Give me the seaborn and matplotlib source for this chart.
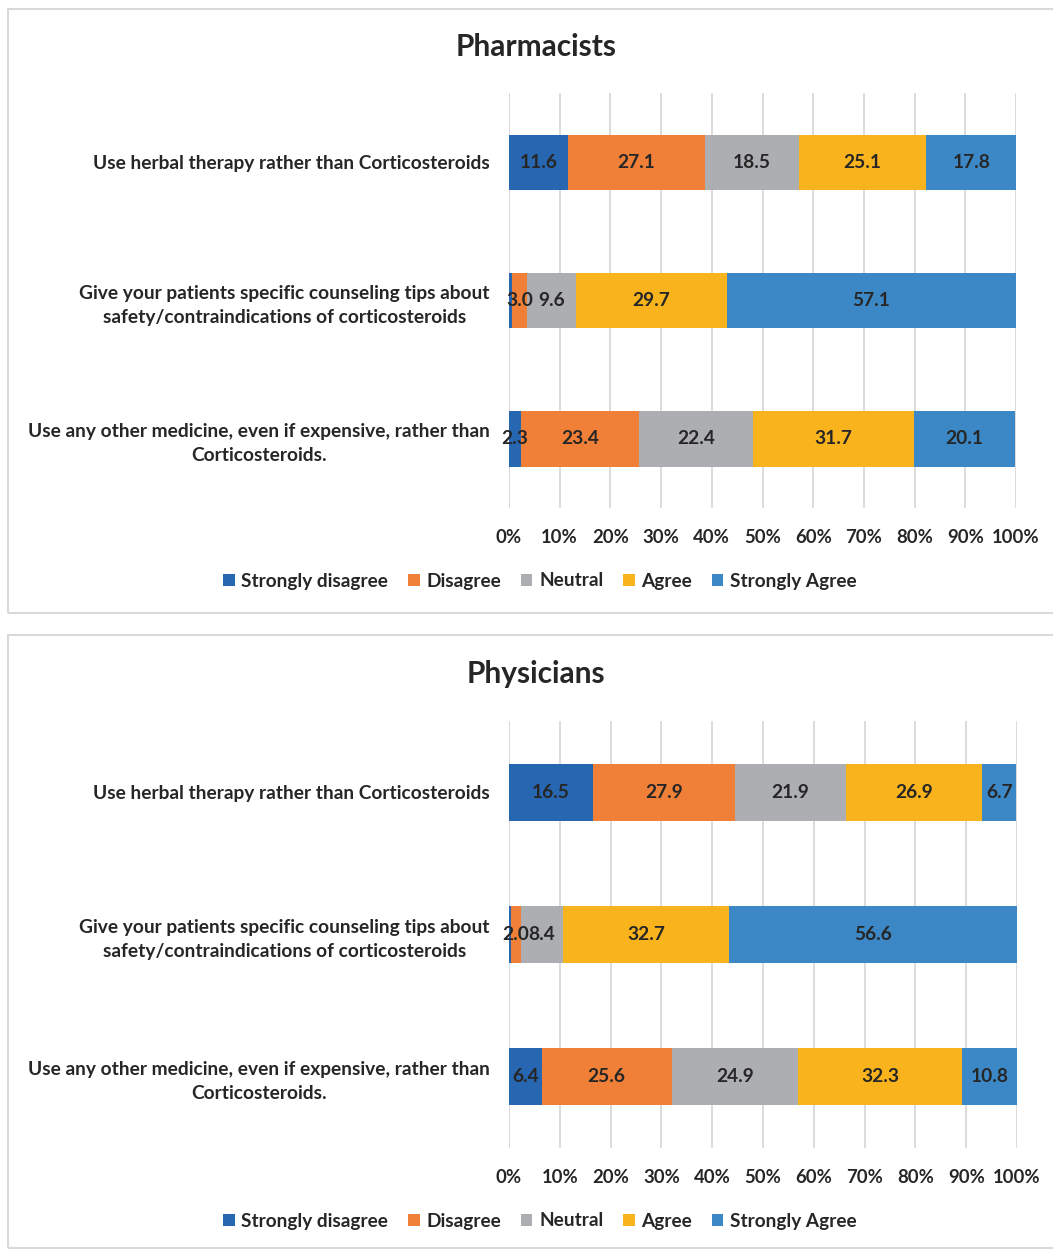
import matplotlib
matplotlib.use("Agg")
import matplotlib.pyplot as plt
import seaborn as sns
import numpy as np
import pandas as pd
from matplotlib.patches import Patch, Rectangle

# ---- data ----
statements = [
    "Use herbal therapy rather than Corticosteroids",
    "Give your patients specific counseling tips about\nsafety/contraindications of corticosteroids",
    "Use any other medicine, even if expensive, rather than\nCorticosteroids.",
]
levels = ["Strongly disagree", "Disagree", "Neutral", "Agree", "Strongly Agree"]
colors = ["#2767B2", "#F07F37", "#ADAEB2", "#F9B31C", "#3C88C6"]

pharm_strongly_disagree = [11.6, 0.6, 2.3]
pharm_disagree = [27.1, 3.0, 23.4]
pharm_neutral = [18.5, 9.6, 22.4]
pharm_agree = [25.1, 29.7, 31.7]
pharm_strongly_agree = [17.8, 57.1, 20.1]

phys_strongly_disagree = [16.5, 0.3, 6.4]
phys_disagree = [27.9, 2.0, 25.6]
phys_neutral = [21.9, 8.4, 24.9]
phys_agree = [26.9, 32.7, 32.3]
phys_strongly_agree = [6.7, 56.6, 10.8]

x_ticks = [0, 10, 20, 30, 40, 50, 60, 70, 80, 90, 100]
x_ticklabels = [f"{t}%" for t in x_ticks]

sns.set_theme(style="whitegrid")
plt.rcParams["font.family"] = ["Lato", "DejaVu Sans"]
plt.rcParams["font.weight"] = "bold"
TXT = "#262626"

W, H = 1053, 1250
fig = plt.figure(figsize=(W / 100, H / 100), dpi=100)


def px_axes(left, top, right, bottom):
    return fig.add_axes([left / W, 1 - bottom / H, (right - left) / W, (bottom - top) / H])


def draw_panel(ax, series, title, title_y, legend_y):
    df = pd.DataFrame({lvl: vals for lvl, vals in zip(levels, series)})
    df["statement"] = statements
    cum = df[levels].cumsum(axis=1)
    # draw from the rightmost cumulative segment to the leftmost
    for lvl, col in reversed(list(zip(levels, colors))):
        sns.barplot(data=cum.assign(statement=statements), x=lvl, y="statement",
                    order=statements, orient="h", color=col, width=0.4,
                    saturation=1, ax=ax, edgecolor="none", linewidth=0)
    # labels
    for i in range(len(statements)):
        for lvl in levels:
            v = df.loc[i, lvl]
            if v < 1:
                continue
            c = cum.loc[i, lvl] - v / 2
            ax.text(c, i, f"{v:.1f}", ha="center", va="center", fontsize=13.8,
                    fontweight="bold", color=TXT)
    ax.set_xlim(0, 100)
    ax.set_ylim(2.5, -0.5)
    ax.set_xticks(x_ticks)
    ax.set_xticklabels(x_ticklabels)
    ax.set_xlabel("")
    ax.set_ylabel("")
    ax.grid(axis="x", color="#D9D9D9", linewidth=1.3)
    ax.grid(axis="y", visible=False)
    ax.set_axisbelow(True)
    for s in ax.spines.values():
        s.set_visible(False)
    ax.axvline(0, color="#D9D9D9", linewidth=1.3, zorder=0)
    ax.tick_params(axis="x", length=0, pad=15, labelsize=13.3, labelcolor=TXT)
    ax.tick_params(axis="y", length=0, pad=14, labelsize=13.8, labelcolor=TXT)
    for t in ax.get_yticklabels():
        t.set_multialignment("center")
        t.set_linespacing(1.5)
        t.set_fontweight("bold")
    for t in ax.get_xticklabels():
        t.set_fontweight("bold")
    fig.text(536 / W, 1 - title_y / H, title, ha="center", va="center",
             fontsize=21.5, fontweight="bold", color=TXT)
    handles = [Patch(facecolor=c, edgecolor="none", label=l) for l, c in zip(levels, colors)]
    fig.legend(handles=handles, loc="center", bbox_to_anchor=(540 / W, 1 - legend_y / H),
               ncol=5, frameon=False, handlelength=0.6, handleheight=0.6,
               handletextpad=0.35, columnspacing=1.05,
               prop={"size": 13.7, "weight": "bold"}, labelcolor=TXT)


ax1 = px_axes(509, 93, 1016, 508)
draw_panel(ax1, [pharm_strongly_disagree, pharm_disagree, pharm_neutral,
                 pharm_agree, pharm_strongly_agree], "Pharmacists", 47, 581)

ax2 = px_axes(509, 721, 1017, 1148)
draw_panel(ax2, [phys_strongly_disagree, phys_disagree, phys_neutral,
                 phys_agree, phys_strongly_agree], "Physicians", 674, 1221)

# panel borders
for top, bottom in [(9, 613), (635, 1248)]:
    fig.patches.append(Rectangle((8 / W, 1 - bottom / H), (1060 - 8) / W, (bottom - top) / H,
                                 transform=fig.transFigure, fill=False,
                                 edgecolor="#D9D9D9", linewidth=1.5))

fig.savefig("out.png", dpi=100, facecolor="white")
